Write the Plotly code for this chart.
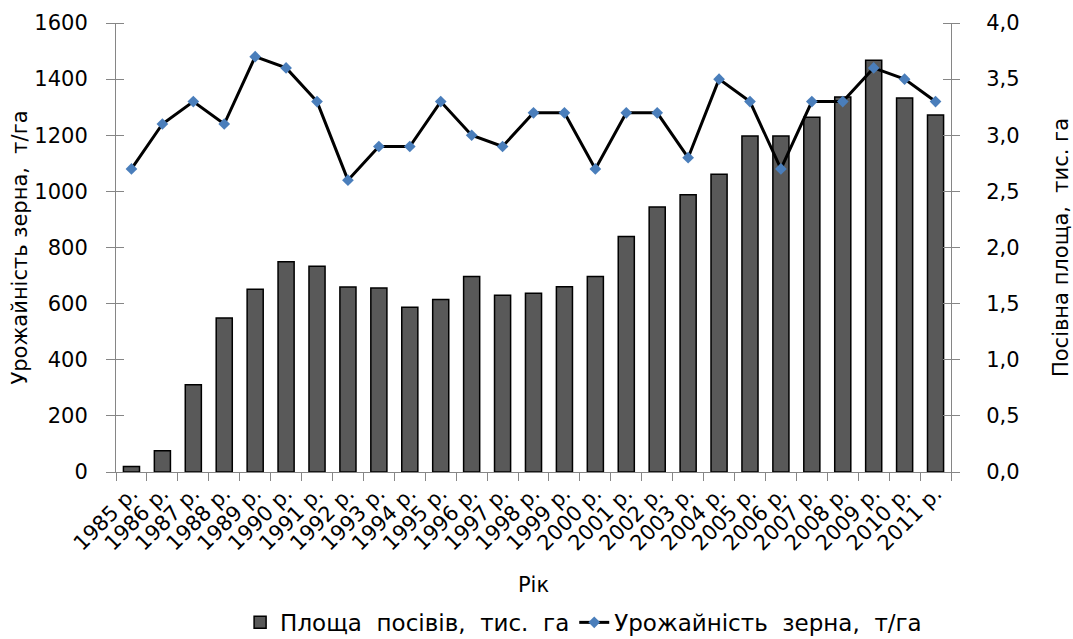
import plotly.graph_objects as go

# Роки спостережень
years = [f"{y} р." for y in range(1985, 2012)]

# Площа посівів, тис. га (ліва вісь)
area = [20, 76, 311, 549, 651, 749, 733, 659, 656, 587, 615, 697, 630, 637,
        660, 697, 839, 944, 988, 1061, 1197, 1197, 1264, 1336, 1467, 1333, 1272]

# Урожайність зерна, т/га (права вісь)
yield_t = [2.7, 3.1, 3.3, 3.1, 3.7, 3.6, 3.3, 2.6, 2.9, 2.9, 3.3, 3.0, 2.9, 3.2,
           3.2, 2.7, 3.2, 3.2, 2.8, 3.5, 3.3, 2.7, 3.3, 3.3, 3.6, 3.5, 3.3]

FONT = "DejaVu Sans, Liberation Sans, Arial, sans-serif"
AXIS_GREY = "#868686"

fig = go.Figure()

fig.add_trace(go.Bar(
    x=years, y=area, name="Площа  посівів,  тис.  га",
    marker=dict(color="#595959", line=dict(color="#000000", width=1.5)),
    yaxis="y",
))

fig.add_trace(go.Scatter(
    x=years, y=yield_t, name="Урожайність  зерна,  т/га",
    mode="lines+markers",
    line=dict(color="#000000", width=3),
    marker=dict(symbol="diamond", size=9, color="#4A7EBB"),
    yaxis="y2",
))

fig.update_layout(
    width=1073, height=639,
    margin=dict(l=116, r=122, t=23, b=167, autoexpand=False),
    paper_bgcolor="white", plot_bgcolor="white",
    font=dict(family=FONT, size=21, color="#000000"),
    separators=", ",
    bargap=0.48,
    showlegend=True,
    legend=dict(
        orientation="h", x=0.56, xanchor="center", y=-0.335, yanchor="middle",
        font=dict(size=23), itemwidth=30, tracegroupgap=0,
    ),
    xaxis=dict(
        type="category", range=[-0.5, len(years) - 0.5],
        showline=True, linecolor=AXIS_GREY, linewidth=1,
        ticks="outside", ticklen=8, tickcolor=AXIS_GREY, tickson="boundaries",
        tickangle=-45, tickfont=dict(size=21),
        showgrid=False, zeroline=False,
        title=dict(text="Рік", font=dict(size=21), standoff=22),
        automargin=False,
    ),
    yaxis=dict(
        range=[0, 1600], dtick=200, tick0=0,
        showline=True, linecolor=AXIS_GREY, linewidth=1,
        ticks="outside", ticklen=9, tickcolor=AXIS_GREY,
        minor=dict(ticks="inside", ticklen=8, tickcolor=AXIS_GREY, tick0=0.01, dtick=200, showgrid=False),
        ticklabelstandoff=14,
        showgrid=False, zeroline=False,
        title=dict(text="Урожайність зерна,  т/га", font=dict(size=21), standoff=0),
        automargin=False,
    ),
    yaxis2=dict(
        range=[0, 4], dtick=0.5, tick0=0, tickformat=".1f",
        overlaying="y", side="right",
        showline=True, linecolor=AXIS_GREY, linewidth=1,
        ticks="outside", ticklen=8, tickcolor=AXIS_GREY,
        minor=dict(ticks="inside", ticklen=8, tickcolor=AXIS_GREY, tick0=0.00001, dtick=0.5, showgrid=False),
        ticklabelstandoff=22,
        showgrid=False, zeroline=False,
        title=dict(text="Посівна площа,  тис. га", font=dict(size=21), standoff=36),
        automargin=False,
    ),
)

fig.write_html("out.html")
